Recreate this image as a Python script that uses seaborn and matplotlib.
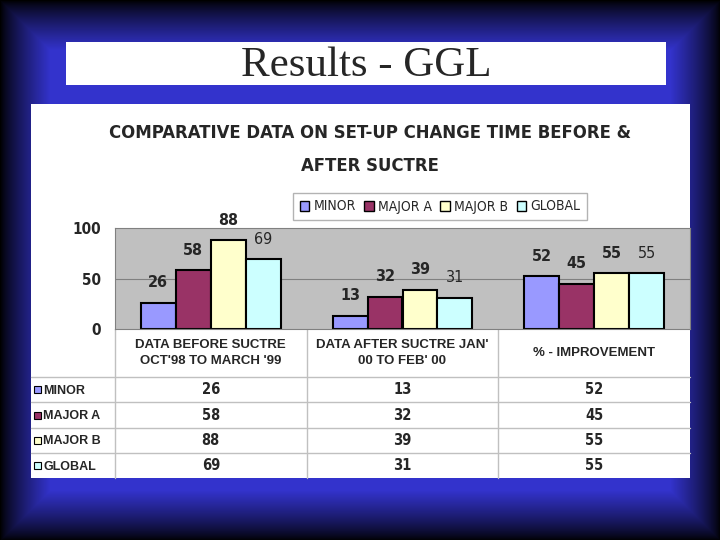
import numpy as np
import pandas as pd
import seaborn as sns
import matplotlib.pyplot as plt
from matplotlib.patches import Rectangle
from matplotlib import font_manager

# data
periods = ["DATA BEFORE SUCTRE\nOCT'98 TO MARCH '99",
           "DATA AFTER SUCTRE JAN'\n00 TO FEB' 00",
           "% - IMPROVEMENT"]
series = ["MINOR", "MAJOR A", "MAJOR B", "GLOBAL"]
minor = [26, 13, 52]
major_a = [58, 32, 45]
major_b = [88, 39, 55]
global_ = [69, 31, 55]
colors = ["#9999ff", "#993366", "#ffffcc", "#ccffff"]

values = [minor, major_a, major_b, global_]
df = pd.DataFrame({
    "period": [p for s in series for p in periods],
    "series": [s for s in series for p in periods],
    "value": [v for vals in values for v in vals],
})

sns.set_style("white")
plt.rcParams["font.family"] = ["Liberation Sans", "DejaVu Sans"]

# look for a condensed face for the Excel-style narrow text
cond = [f for f in font_manager.fontManager.ttflist
        if f.stretch in ("condensed", "semi-condensed") or "Condensed" in f.name
        or "Narrow" in f.name]
if cond:
    nar = dict(family=cond[0].name, fontstretch=cond[0].stretch)
else:
    nar = dict(family=["Liberation Sans", "DejaVu Sans"])

fig = plt.figure(figsize=(7.2, 5.4), dpi=100)

# slide background, pixel coordinates
bg = fig.add_axes([0, 0, 1, 1])
W, H = 720, 540
xx, yy = np.meshgrid(np.arange(W), np.arange(H))
d = np.minimum(np.minimum(xx, W - xx), np.minimum(yy, H - yy))
k = np.clip(d / 50.0, 0, 1) ** 0.8
img = np.dstack([k * 0.2, k * 0.2, k * 0.8])
bg.imshow(img, extent=[0, W, H, 0], aspect="auto")
bg.set_xlim(0, W)
bg.set_ylim(H, 0)
bg.axis("off")

bg.add_patch(Rectangle((66, 42), 600, 43, facecolor="white", edgecolor="none"))
bg.text(366, 66, "Results - GGL", ha="center", va="center",
        family=["Liberation Serif", "DejaVu Serif"], fontsize=31)

bg.add_patch(Rectangle((31, 104), 659, 374, facecolor="white", edgecolor="none"))
t1 = bg.text(370, 133, "COMPARATIVE DATA ON SET-UP CHANGE TIME BEFORE &",
             ha="center", va="center", fontsize=16, fontweight="bold", **nar)
t2 = bg.text(370, 166, "AFTER SUCTRE", ha="center", va="center",
             fontsize=16, fontweight="bold", **nar)
# keep the first title line at the reference width (~525 px)
fig.canvas.draw()
w = t1.get_window_extent().width
if w > 530:
    fs = 16 * 525 / w
    t1.set_fontsize(fs)
    t2.set_fontsize(fs)

# data table under the chart
col_x = [115, 306.7, 498.3, 690]
row_y = [329, 377, 402, 428, 453, 478]
for y in row_y[1:-1]:
    bg.plot([31, 690], [y, y], color="#c0c0c0", lw=1)
for x in col_x[:-1]:
    bg.plot([x, x], [329, 478], color="#c0c0c0", lw=1)
for i, p in enumerate(periods):
    cx = (col_x[i] + col_x[i + 1]) / 2
    bg.text(cx, 353, p, ha="center", va="center", fontsize=9.5,
            fontweight="bold", linespacing=1.35)
for j, s in enumerate(series):
    cy = (row_y[j + 1] + row_y[j + 2]) / 2
    bg.add_patch(Rectangle((34, cy - 3.5), 7, 7, facecolor=colors[j],
                           edgecolor="black", lw=0.8))
    bg.text(43, cy + 1, s, ha="left", va="center", fontsize=9, fontweight="bold")
    for i, v in enumerate(values[j]):
        cx = (col_x[i] + col_x[i + 1]) / 2
        bg.text(cx, cy, str(v), ha="center", va="center", fontsize=10.5,
                fontweight="bold", **nar)

# bar chart
ax = fig.add_axes([115 / W, 1 - 329 / H, 575 / W, 101 / H])
sns.barplot(data=df, x="period", y="value", hue="series", hue_order=series,
            palette=colors, width=0.73, edgecolor="black", linewidth=1.5,
            saturation=1, ax=ax)
ax.set_facecolor("#c0c0c0")
ax.set_ylim(0, 100)
ax.set_yticks([0, 50, 100])
ax.set_yticklabels(["0", "50", "100"], fontsize=11, fontweight="bold", **nar)
ax.tick_params(axis="y", length=0, pad=10)
ax.set_xticks([])
ax.set_xlabel("")
ax.set_ylabel("")
ax.axhline(50, color="#808080", lw=0.8, zorder=0)
for sp in ax.spines.values():
    sp.set_color("#808080")
    sp.set_linewidth(0.8)

for j, cont in enumerate(ax.containers):
    ax.bar_label(cont, padding=9, fontsize=11.5,
                 fontweight="normal" if series[j] == "GLOBAL" else "bold", **nar)

prop = font_manager.FontProperties(size=10, **{("stretch" if k == "fontstretch" else k): v
                                               for k, v in nar.items()})
leg = ax.legend(loc="center", bbox_to_anchor=(440 / W, 1 - 206.5 / H),
                bbox_transform=fig.transFigure, ncol=4, frameon=True,
                fancybox=False, edgecolor="#a0a0a0", prop=prop,
                handlelength=0.7, handleheight=0.7, handletextpad=0.3,
                columnspacing=0.6, borderpad=0.45)
for h in leg.legend_handles:
    h.set_linewidth(1)

fig.savefig("out.png", dpi=100)
